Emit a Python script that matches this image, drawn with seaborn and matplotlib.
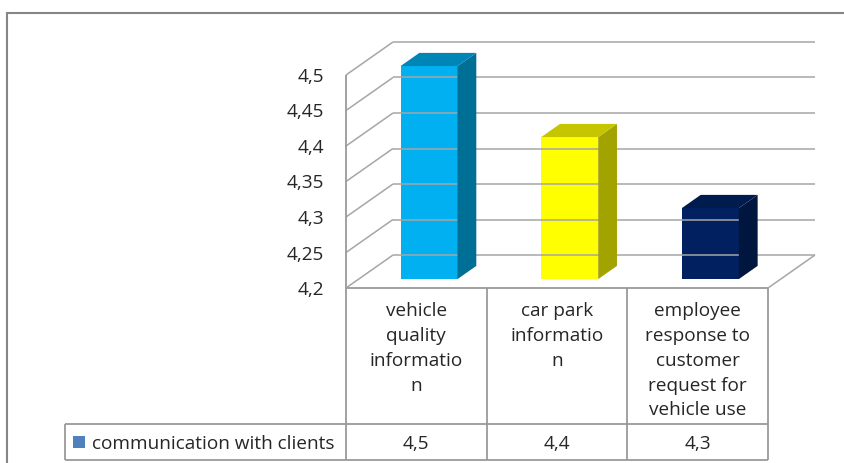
import numpy as np
import pandas as pd
import matplotlib
matplotlib.use("Agg")
import matplotlib.pyplot as plt
import seaborn as sns
from matplotlib.transforms import ScaledTranslation, IdentityTransform
from matplotlib.patches import Polygon, Rectangle
from matplotlib.lines import Line2D

# ---- data ----
categories = [
    "vehicle\nquality\ninformatio\nn",
    "car park\ninformatio\nn",
    "employee\nresponse to\ncustomer\nrequest for\nvehicle use",
]
scores = [4.5, 4.4, 4.3]
series_name = "communication with clients"
value_labels = ["4,5", "4,4", "4,3"]
y_ticks = [4.2, 4.25, 4.3, 4.35, 4.4, 4.45, 4.5]
y_tick_labels = ["4,2", "4,25", "4,3", "4,35", "4,4", "4,45", "4,5"]

front_colors = ["#00B0F0", "#FFFF00", "#002060"]
side_colors = ["#006F95", "#A3A300", "#00163F"]
top_colors = ["#0086B6", "#C6C600", "#001B4E"]
legend_color = "#4F81BD"

# ---- style ----
sns.set_theme(style="white")
plt.rcParams["font.family"] = ["Open Sans", "DejaVu Sans"]
FONT_SIZE = 13.7
TEXT_COLOR = "#262626"
GRID_COLOR = "#A6A6A6"
FRAME_COLOR = "#868686"

W, H, DPI = 845, 463, 100
fig = plt.figure(figsize=(W / DPI, H / DPI), dpi=DPI)
fig.patch.set_facecolor("white")

# front plane of the 3-D plot box
ax = fig.add_axes([346 / W, 1 - 288 / H, 422 / W, 213 / H])
ax.patch.set_alpha(0)

df = pd.DataFrame({"category": categories, "score": scores})
sns.barplot(data=df, x="category", y="score", hue="category",
            palette=front_colors, saturation=1, width=0.405,
            legend=False, ax=ax, zorder=3)

YMIN, YMAX = y_ticks[0], y_ticks[-1]
ax.set_xlim(-0.5, len(categories) - 0.5)
ax.set_ylim(YMIN, YMAX)
ax.set_yticks(y_ticks)
ax.set_yticklabels(y_tick_labels, fontsize=FONT_SIZE, color=TEXT_COLOR)
ax.tick_params(axis="y", length=0, pad=16)
ax.set_xticks([])
ax.set_xlabel("")
ax.set_ylabel("")
for s in ax.spines.values():
    s.set_visible(False)

# depth of the plot box (pixels) and where the bars sit inside it
DEPTH_DX, DEPTH_DY = 47, 33
BAR_FRONT, BAR_BACK = 0.27, 0.67

fig.canvas.draw()
ident = IdentityTransform()


def proj(x, v, d):
    px, py = ax.transData.transform((x, v))
    return (px + DEPTH_DX * d, py + DEPTH_DY * d)


def seg(p0, p1, color=GRID_COLOR, lw=1.1, z=1):
    fig.add_artist(Line2D([p0[0], p1[0]], [p0[1], p1[1]], transform=ident,
                          color=color, lw=lw, zorder=z, solid_capstyle="butt"))


x0, x1 = ax.get_xlim()
# back wall gridlines and left wall diagonals
for v in y_ticks:
    seg(proj(x0, v, 1), proj(x1, v, 1))
    seg(proj(x0, v, 0), proj(x0, v, 1))
# floor right edge
seg(proj(x1, YMIN, 0), proj(x1, YMIN, 1))

# bars: front faces from seaborn, then side and top faces
for i, p in enumerate(ax.patches):
    v = p.get_height()
    p.set_y(YMIN)
    p.set_height(v - YMIN)
    p.set_transform(ax.transData + ScaledTranslation(
        DEPTH_DX * BAR_FRONT / DPI, DEPTH_DY * BAR_FRONT / DPI, fig.dpi_scale_trans))
    p.set_clip_on(False)
    p.set_edgecolor("none")
    bl, br = p.get_x(), p.get_x() + p.get_width()
    side = [proj(br, YMIN, BAR_FRONT), proj(br, YMIN, BAR_BACK),
            proj(br, v, BAR_BACK), proj(br, v, BAR_FRONT)]
    top = [proj(bl, v, BAR_FRONT), proj(br, v, BAR_FRONT),
           proj(br, v, BAR_BACK), proj(bl, v, BAR_BACK)]
    fig.add_artist(Polygon(side, closed=True, transform=ident,
                           facecolor=side_colors[i], edgecolor="none", zorder=4))
    fig.add_artist(Polygon(top, closed=True, transform=ident,
                           facecolor=top_colors[i], edgecolor="none", zorder=4))

# ---- data table under the plot ----
HEADER_H, ROW_H = 136, 36
LEGEND_LEFT = 65
TABLE_COLOR = "#9A9A9A"
floor_y = proj(x0, YMIN, 0)[1]
head_bot = floor_y - HEADER_H
row_bot = head_bot - ROW_H
bounds = [proj(x0 + k, YMIN, 0)[0] for k in range(len(categories) + 1)]

seg((bounds[0], floor_y), (bounds[-1], floor_y), TABLE_COLOR, 1.3, 5)
seg(proj(x0, YMAX, 0), (bounds[0], row_bot), TABLE_COLOR, 1.3, 5)
for bx in bounds[1:]:
    seg((bx, floor_y), (bx, row_bot), TABLE_COLOR, 1.3, 5)
seg((LEGEND_LEFT, head_bot), (bounds[-1], head_bot), TABLE_COLOR, 1.3, 5)
seg((LEGEND_LEFT, row_bot), (bounds[-1], row_bot), TABLE_COLOR, 1.3, 5)
seg((LEGEND_LEFT, head_bot), (LEGEND_LEFT, row_bot), TABLE_COLOR, 1.3, 5)

row_mid = (head_bot + row_bot) / 2
for k, (lab, val) in enumerate(zip(categories, value_labels)):
    cx = (bounds[k] + bounds[k + 1]) / 2
    fig.text(cx / W, (floor_y - 14) / H, lab, ha="center", va="top",
             fontsize=FONT_SIZE, color=TEXT_COLOR, linespacing=1.49)
    fig.text(cx / W, row_mid / H, val, ha="center", va="center_baseline",
             fontsize=FONT_SIZE, color=TEXT_COLOR)

fig.add_artist(Rectangle((73, row_mid - 6), 12, 12, transform=ident,
                         facecolor=legend_color, edgecolor="none", zorder=6))
fig.text(92 / W, row_mid / H, series_name, ha="left", va="center_baseline",
         fontsize=FONT_SIZE, color=TEXT_COLOR)

# outer chart border
fig.add_artist(Rectangle((6.5, -20), W + 20, H - 12.5 + 20, transform=ident,
                         facecolor="none", edgecolor=FRAME_COLOR, lw=1.5, zorder=0))

fig.savefig("out.png", dpi=DPI, facecolor="white")
